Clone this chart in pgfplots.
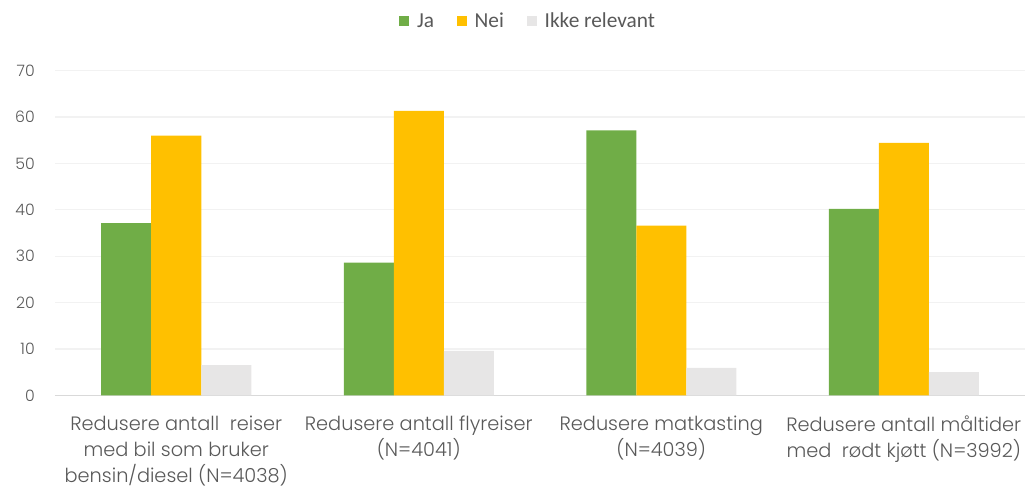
\documentclass[border=0pt]{standalone}
\usepackage{pgfplots}
\pgfplotsset{compat=1.18}
\usepackage{fontspec}
\IfFontExistsTF{Poppins Light}{\setmainfont{Poppins Light}}{\setmainfont{Poppins}}
\newfontfamily\legfont{Carlito}
\definecolor{cgreen}{HTML}{70AD47}
\definecolor{corange}{HTML}{FFC000}
\definecolor{cgrey}{HTML}{E7E6E6}
\definecolor{textgray}{HTML}{595959}
\definecolor{gridc}{HTML}{F2F2F2}
\definecolor{axisc}{HTML}{D9D9D9}
\begin{document}
\begin{tikzpicture}[x=1pt,y=1pt]
\useasboundingbox (-41.25,-68.8) rectangle (729,296.5);
\begin{axis}[
  at={(0,0)}, anchor=south west, scale only axis,
  width=727.5pt, height=243.6pt,
  xmin=-0.5, xmax=3.5, ymin=0, ymax=70,
  ytick={0,10,...,70},
  xtick={0,1,2,3},
  xticklabels={{Redusere antall\ \ reiser\\med bil som bruker\\bensin/diesel (N=4038)},
               {Redusere antall flyreiser\\(N=4041)},
               {Redusere matkasting\\(N=4039)},
               {Redusere antall måltider\\med\ \ rødt kjøtt (N=3992)}},
  ybar=0pt, bar width=37.5pt,
  axis x line*=bottom, axis y line*=left,
  y axis line style={draw=none},
  x axis line style={draw=axisc, line width=0.9pt},
  major tick length=0pt,
  ymajorgrids, grid style={draw=gridc, line width=0.9pt},
  /pgf/number format/assume math mode=true,
  yticklabel style={font=\fontsize{11.8}{14}\selectfont, text=textgray, inner sep=0pt, anchor=east},
  yticklabel shift=15pt,
  xticklabel style={font=\fontsize{14.5}{19.3}\selectfont, text=textgray, align=center, anchor=north, inner sep=0pt},
  xticklabel shift=15.5pt,
  legend style={at={(0.488,1)}, anchor=center, yshift=37pt, draw=none, fill=none,
    font=\legfont\fontsize{16}{19}\selectfont, text=textgray, legend columns=3,
    /tikz/every odd column/.append style={column sep=4pt},
    /tikz/every even column/.append style={column sep=15pt}},
  legend image code/.code={\fill[#1] (0pt,-3.75pt) rectangle (7.5pt,3.75pt);},
]
\addplot[fill=cgreen, draw=none] coordinates {(0,37.1) (1,28.6) (2,57.1) (3,40.2)};
\addplot[fill=corange, draw=none] coordinates {(0,56.0) (1,61.3) (2,36.6) (3,54.4)};
\addplot[fill=cgrey, draw=none] coordinates {(0,6.5) (1,9.6) (2,5.9) (3,5.0)};
\legend{Ja, Nei, Ikke relevant}
\end{axis}
\end{tikzpicture}
\end{document}
